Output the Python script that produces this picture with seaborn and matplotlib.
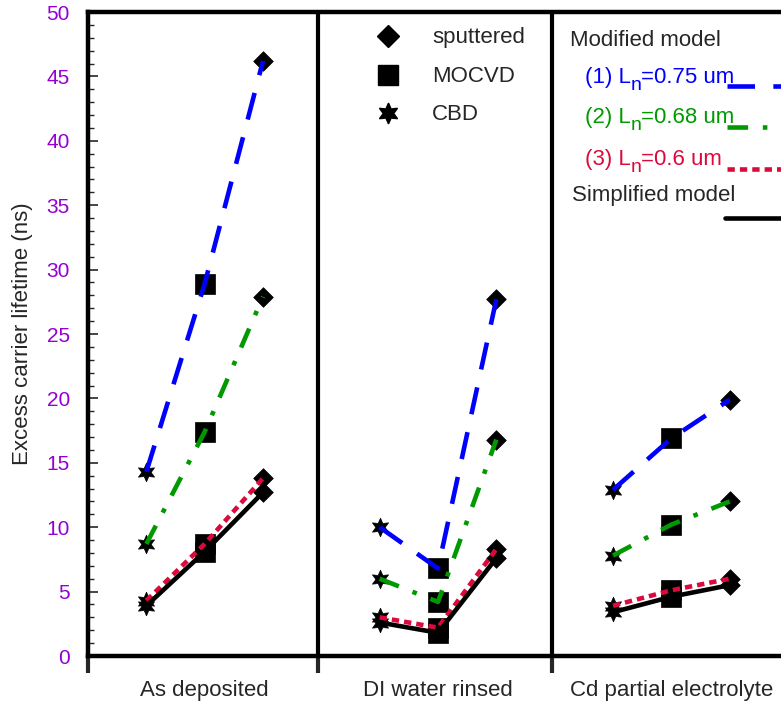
import numpy as np
import pandas as pd
import matplotlib
matplotlib.use("Agg")
import matplotlib.pyplot as plt
from matplotlib.lines import Line2D
import seaborn as sns

# ---------------- data ----------------
treatments = ["As deposited", "DI water rinsed", "Cd partial electrolyte"]
methods = ["CBD", "MOCVD", "sputtered"]  # order within each panel
models = ["(1) Ln=0.75 um", "(2) Ln=0.68 um", "(3) Ln=0.6 um", "Simplified model"]
model_prefix = ["(1) L", "(2) L", "(3) L"]
model_suffix = ["=0.75 um", "=0.68 um", "=0.6 um"]

mod_075 = [14.3, 28.9, 46.2, 10.0, 6.8, 27.7, 12.9, 16.9, 19.9]
mod_068 = [8.7, 17.4, 27.9, 6.0, 4.2, 16.8, 7.8, 10.2, 12.0]
mod_060 = [4.3, 8.7, 13.8, 3.0, 2.2, 8.3, 3.9, 5.1, 6.0]
simplified = [3.9, 8.1, 12.7, 2.6, 1.8, 7.6, 3.4, 4.6, 5.5]

y_ticks = [0, 5, 10, 15, 20, 25, 30, 35, 40, 45, 50]

# ---------------- build long table ----------------
rows = []
for m, vals in zip(models, [mod_075, mod_068, mod_060, simplified]):
    for i, v in enumerate(vals):
        p = i // 3
        k = i % 3
        rows.append(dict(model=m, panel=p, method=methods[k],
                         x=p * 4 + 1 + k, value=v))
df = pd.DataFrame(rows)

# ---------------- figure ----------------
sns.set_style("white")
plt.rcParams['font.family'] = ['Liberation Sans', 'DejaVu Sans']

FS = 16
W, H = 781, 704
fig = plt.figure(figsize=(W / 100, H / 100), dpi=100)
ax = fig.add_axes([88 / W, (H - 656) / H, 700 / W, 644 / H])

colors = {models[0]: "#0000ff", models[1]: "#009a00",
          models[2]: "#dc0a3c", models[3]: "#000000"}
dashes = {models[0]: (6.0, 4.0), models[1]: (4.5, 3.2, 1.0, 3.2),
          models[2]: (1.6, 1.1), models[3]: ""}

# markers (under the lines)
marker_specs = {"CBD": ((6, 1, 0), 180), "MOCVD": ("s", 210), "sputtered": ("D", 100)}
for meth, (mk, sz) in marker_specs.items():
    sns.scatterplot(data=df[df.method == meth], x="x", y="value", marker=mk,
                    s=sz, color="black", edgecolor="black", linewidth=0.5,
                    ax=ax, legend=False, zorder=2)

sns.lineplot(data=df, x="x", y="value", hue="model", style="model",
             units="panel", estimator=None, palette=colors, dashes=dashes,
             linewidth=3.3, ax=ax, legend=False, zorder=3, sort=True)
for ln in ax.lines:
    ln.set_dash_capstyle("butt")

# panel dividers
for xd in [3.95, 7.96]:
    ax.axvline(xd, color="black", lw=3, zorder=1)

ax.set_xlim(0, 12)
ax.set_ylim(0, 50)
ax.set_xlabel("")
ax.set_ylabel("Excess carrier lifetime (ns)", fontsize=FS, labelpad=10)

ax.set_yticks(y_ticks)
ax.set_yticks(np.arange(0, 51, 1), minor=True)
ax.tick_params(axis="y", which="major", direction="in", length=7, width=1.2,
               labelsize=15, labelcolor="#9400d3", pad=13, left=True)
ax.tick_params(axis="y", which="minor", direction="in", length=4, width=1.0, left=True)

ax.set_xticks([0, 3.95, 7.96])
ax.set_xticklabels([])
ax.set_xticks([2, 6, 10], minor=True)
ax.set_xticklabels(treatments, minor=True)
ax.tick_params(axis="x", which="major", direction="out", length=12, width=3, bottom=True)
ax.tick_params(axis="x", which="minor", length=0, labelsize=FS, pad=17, bottom=True)

for s in ["left", "bottom", "top", "right"]:
    ax.spines[s].set_linewidth(3.2)
    ax.spines[s].set_color("black")

# ---------------- legends (manual) ----------------
def fx(px):
    return px / W

def fy(py):
    return 1 - py / H

legend_markers = [("sputtered", "D", 11, 36), ("MOCVD", "s", 14.5, 75), ("CBD", (6, 1, 0), 15, 113)]
for lab, mk, ms, py in legend_markers:
    fig.add_artist(Line2D([fx(388)], [fy(py)], marker=mk, markersize=ms,
                          color="black", linestyle="none", transform=fig.transFigure))
    fig.text(fx(432), fy(py + 2), lab, fontsize=FS, va="center", ha="left")

fig.text(fx(570), fy(41), "Modified model", fontsize=FS, va="center", ha="left")
fig.text(fx(572), fy(195), "Simplified model", fontsize=FS, va="center", ha="left")

renderer = fig.canvas.get_renderer()
for i, py in enumerate([83, 123, 165]):
    c = colors[models[i]]
    t1 = fig.text(fx(585), fy(py), model_prefix[i], fontsize=FS, va="baseline",
                  ha="left", color=c)
    x1 = t1.get_window_extent(renderer).x1
    t2 = fig.text(x1 / W, fy(py + 7), "n", fontsize=14, va="baseline",
                  ha="left", color=c)
    x2 = t2.get_window_extent(renderer).x1
    fig.text(x2 / W - 0.5 / W, fy(py), model_suffix[i], fontsize=FS, va="baseline",
             ha="left", color=c)

for m, py, x0 in [(models[0], 86, 727), (models[1], 127, 727), (models[2], 169, 727), (models[3], 218, 725)]:
    ln = Line2D([fx(x0), fx(800)], [fy(py), fy(py)], color=colors[m], lw=3.3,
                transform=fig.transFigure)
    if dashes[m]:
        ln.set_dashes(dashes[m])
    ln.set_dash_capstyle("butt")
    fig.add_artist(ln)

fig.savefig("out.png", dpi=100)
